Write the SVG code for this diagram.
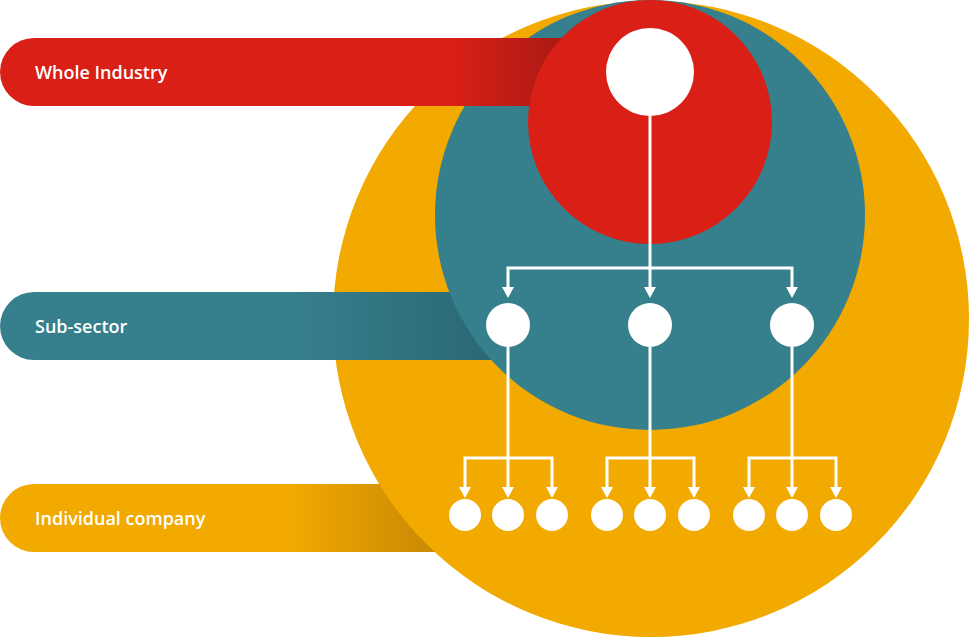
<svg xmlns="http://www.w3.org/2000/svg" width="969" height="638" viewBox="0 0 969 638">
<defs>
<style>
.lbl{font-family:"Open Sans","Liberation Sans",Arial,sans-serif;font-size:18px;font-weight:600;fill:#fff}
.ln{stroke:#fff;stroke-width:3;fill:none}
.w{fill:#fff}
</style>
<linearGradient id="gr" x1="0" x2="1"><stop offset="0.8" stop-color="#d91f16"/><stop offset="1" stop-color="#a81a14"/></linearGradient>
<linearGradient id="gt" x1="0" x2="1"><stop offset="0.6" stop-color="#367f8d"/><stop offset="1" stop-color="#2b6774"/></linearGradient>
<linearGradient id="gy" x1="0" x2="1"><stop offset="0.65" stop-color="#f2a900"/><stop offset="0.97" stop-color="#c98a06"/></linearGradient>
</defs>
<g id="bar-company"><path d="M34,484 H445 V552 H34 A34,34 0 0 1 34,484 Z" fill="url(#gy)"/><text class="lbl" x="35" y="525">Individual company</text></g>
<g id="circle-company"><circle cx="651" cy="319" r="318" fill="#f2a900"/></g>
<g id="bar-subsector"><path d="M34,292 H495 V360 H34 A34,34 0 0 1 34,292 Z" fill="url(#gt)"/><text class="lbl" x="35" y="333">Sub-sector</text></g>
<g id="circle-subsector"><circle cx="650" cy="215" r="215" fill="#367f8d"/></g>
<g id="bar-industry"><path d="M34,38 H565 V106 H34 A34,34 0 0 1 34,38 Z" fill="url(#gr)"/><text class="lbl" x="35" y="79">Whole Industry</text></g>
<g id="circle-industry"><circle cx="650" cy="122" r="122" fill="#d91f16"/></g>
<g id="connectors">
<g class="ln">
<path d="M650,116 V292"/>
<path d="M508,292 V268 H792 V292"/>
<path d="M508,347 V488"/><path d="M465,488 V458 H552 V488"/>
<path d="M650,347 V488"/><path d="M607,488 V458 H694 V488"/>
<path d="M792,347 V488"/><path d="M749,488 V458 H836 V488"/>
</g>
<path fill="#fff" d="M502,287 h12 l-6,11z M644,287 h12 l-6,11z M786,287 h12 l-6,11z M459,487 h12 l-6,11z M502,487 h12 l-6,11z M546,487 h12 l-6,11z M601,487 h12 l-6,11z M644,487 h12 l-6,11z M688,487 h12 l-6,11z M743,487 h12 l-6,11z M786,487 h12 l-6,11z M830,487 h12 l-6,11z"/>
</g>
<g id="node-top"><circle class="w" cx="650" cy="72" r="44"/></g>
<g id="nodes-sub" class="w"><circle cx="508" cy="325" r="22"/><circle cx="650" cy="325" r="22"/><circle cx="792" cy="325" r="22"/></g>
<g id="nodes-company" class="w">
<circle cx="465" cy="515" r="16"/><circle cx="508" cy="515" r="16"/><circle cx="552" cy="515" r="16"/>
<circle cx="607" cy="515" r="16"/><circle cx="650" cy="515" r="16"/><circle cx="694" cy="515" r="16"/>
<circle cx="749" cy="515" r="16"/><circle cx="792" cy="515" r="16"/><circle cx="836" cy="515" r="16"/>
</g>
</svg>
